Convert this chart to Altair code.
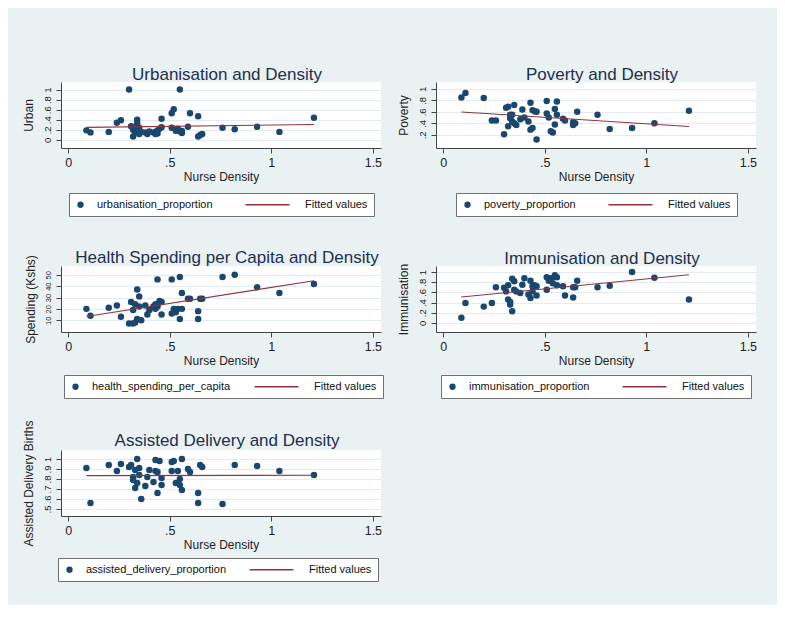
import altair as alt
import pandas as pd

# Nurse density per county (x, shared by all panels)
nurse_density = [0.09, 0.11, 0.20, 0.24, 0.26, 0.30, 0.31, 0.32, 0.32, 0.33, 0.33, 0.34,
                 0.34, 0.35, 0.35, 0.36, 0.38, 0.39, 0.40, 0.42, 0.43, 0.43, 0.44, 0.44,
                 0.45, 0.46, 0.46, 0.51, 0.51, 0.52, 0.53, 0.54, 0.55, 0.55, 0.56, 0.56,
                 0.59, 0.60, 0.64, 0.64, 0.65, 0.66, 0.76, 0.82, 0.93, 1.04, 1.21]

urbanisation_proportion = [0.19, 0.15, 0.16, 0.34, 0.39, 1.00, 0.27, 0.07, 0.20, 0.25, 0.15, 0.40,
                           0.33, 0.12, 0.24, 0.16, 0.15, 0.12, 0.17, 0.15, 0.12, 0.16, 0.19, 0.13,
                           0.22, 0.42, 0.25, 0.53, 0.24, 0.61, 0.18, 0.22, 1.00, 0.17, 0.14, 0.18,
                           0.26, 0.53, 0.47, 0.07, 0.10, 0.12, 0.24, 0.21, 0.26, 0.16, 0.44]

poverty_proportion = [0.85, 0.93, 0.84, 0.45, 0.45, 0.21, 0.67, 0.69, 0.35, 0.55, 0.49, 0.55,
                      0.43, 0.72, 0.40, 0.37, 0.47, 0.64, 0.50, 0.43, 0.76, 0.29, 0.32, 0.63,
                      0.61, 0.12, 0.60, 0.79, 0.57, 0.50, 0.26, 0.24, 0.65, 0.38, 0.78, 0.55,
                      0.48, 0.45, 0.42, 0.37, 0.40, 0.60, 0.55, 0.30, 0.32, 0.40, 0.62]

health_spending_per_capita = [20, 14, 21, 23, 13, 7, 26, 7, 19, 24, 8, 37,
                              11, 31, 22, 10, 23, 15, 19, 22, 24, 20, 46, 22,
                              27, 15, 26, 46, 16, 20, 17, 20, 48, 11, 34, 20,
                              29, 29, 18, 11, 29, 29, 48, 50, 39, 34, 42]

immunisation_proportion = [0.10, 0.39, 0.32, 0.39, 0.70, 0.69, 0.62, 0.74, 0.46, 0.41, 0.36, 0.87,
                           0.23, 0.82, 0.65, 0.62, 0.59, 0.75, 0.88, 0.56, 0.83, 0.49, 0.72, 0.62,
                           0.74, 0.54, 0.72, 0.90, 0.65, 0.83, 0.88, 0.78, 0.94, 0.91, 0.74, 0.90,
                           0.72, 0.54, 0.50, 0.70, 0.70, 0.83, 0.70, 0.73, 1.00, 0.89, 0.46]

assisted_delivery_proportion = [0.91, 0.56, 0.94, 0.88, 0.95, 0.92, 0.94, 0.82, 0.79, 0.71, 0.89, 1.00,
                                0.76, 0.91, 0.84, 0.60, 0.73, 0.82, 0.89, 0.77, 0.99, 0.88, 0.87, 0.66,
                                0.98, 0.81, 0.74, 0.97, 0.88, 0.98, 0.76, 0.88, 0.80, 0.74, 1.00, 0.69,
                                0.90, 0.87, 0.66, 0.56, 0.94, 0.92, 0.55, 0.94, 0.93, 0.88, 0.84]

x_ticks = [0, 0.5, 1, 1.5]

NAVY = "#1a476f"
MAROON = "#90353b"
FONT = "Liberation Sans"
LINE_PATH = "M-13.6,-0.2H0.3V0.2H-13.6Z"
LABEL_EXPR = "replace(datum.label, '0.', '.')"


def panel(values, series, title, ytitle, ydomain, yticks, legend_x, legend_y,
          title_dy, col_pad=32, ylabel_size=9.5):
    df = pd.DataFrame({"x": nurse_density, "y": values, "series": series})
    xenc = alt.X(
        "x:Q",
        scale=alt.Scale(domain=[-0.035, 1.54], nice=False, zero=False),
        axis=alt.Axis(values=x_ticks, format="~r", labelExpr=LABEL_EXPR, grid=False,
                      title="Nurse Density", labelFontSize=12.5, titleFontSize=12,
                      labelPadding=3, titlePadding=3, tickSize=5),
    )
    yenc = alt.Y(
        "y:Q",
        scale=alt.Scale(domain=ydomain, nice=False, zero=False),
        axis=alt.Axis(values=yticks, format="~r", labelExpr=LABEL_EXPR, grid=True,
                      gridColor="#e3ebee", title=ytitle, labelAngle=270,
                      labelAlign="center", labelBaseline="bottom", labelFontSize=ylabel_size,
                      labelOverlap=False, labelPadding=4, titleFontSize=12, titlePadding=7,
                      tickSize=5),
    )
    leg = alt.Legend(
        title=None, orient="none", legendX=legend_x, legendY=legend_y,
        direction="horizontal", columnPadding=col_pad, padding=6,
        strokeColor="#707070", fillColor="white", labelFont=FONT, labelFontSize=11,
        labelColor="#111111", symbolSize=40, labelOffset=11, labelLimit=300,
        symbolStrokeWidth=0,
    )
    dom = [series, "Fitted values"]
    pts = alt.Chart(df).mark_point(filled=True, opacity=1, size=42).encode(
        x=xenc,
        y=yenc,
        color=alt.Color("series:N", scale=alt.Scale(domain=dom, range=[NAVY, MAROON]), legend=leg),
        shape=alt.Shape("series:N", scale=alt.Scale(domain=dom, range=["circle", LINE_PATH]), legend=leg),
    )
    fit = alt.Chart(df).transform_regression("x", "y").mark_line(
        color=MAROON, strokeWidth=1.1
    ).encode(x=xenc, y=yenc)
    return alt.layer(pts, fit).properties(
        width=320, height=66,
        title=alt.Title(title, fontSize=17, font=FONT, fontWeight="normal",
                        color="#1c2f4d", offset=1, dx=6, dy=title_dy, frame="group"),
    )


p1 = panel(urbanisation_proportion, "urbanisation_proportion", "Urbanisation and Density",
           "Urban", [-0.16, 1.15], [0, 0.2, 0.4, 0.6, 0.8, 1], 8, 111, 3)
p2 = panel(poverty_proportion, "poverty_proportion", "Poverty and Density",
           "Poverty", [-0.03, 1.12], [0.2, 0.4, 0.6, 0.8, 1], 20, 111, 3)
p3 = panel(health_spending_per_capita, "health_spending_per_capita",
           "Health Spending per Capita and Density", "Spending (Kshs)", [-0.4, 57.8],
           [10, 20, 30, 40, 50], 3, 109, 13, col_pad=23, ylabel_size=7.5)
p4 = panel(immunisation_proportion, "immunisation_proportion", "Immunisation and Density",
           "Immunisation", [-0.18, 1.12], [0, 0.2, 0.4, 0.6, 0.8, 1], 5, 109, 6)
p5 = panel(assisted_delivery_proportion, "assisted_delivery_proportion",
           "Assisted Delivery and Density", "Assisted Delivery Births", [0.43, 1.09],
           [0.5, 0.6, 0.7, 0.8, 0.9, 1], -3, 108, 31, col_pad=22)

RES = dict(color="independent", shape="independent")
row1 = alt.hconcat(p1, p2, spacing=55, bounds="flush").resolve_scale(**RES)
row2 = alt.hconcat(p3, p4, spacing=55, bounds="flush").resolve_scale(**RES)
row3 = alt.hconcat(p5, spacing=55, bounds="flush").resolve_scale(**RES)

chart = alt.vconcat(row1, row2, row3, spacing=184, bounds="flush").resolve_scale(**RES).properties(
    padding={"left": 13, "top": 58, "right": 20, "bottom": 23},
    background="#eaf1f3",
).configure_view(
    strokeWidth=0, fill="white"
).configure_axis(
    labelFont=FONT, titleFont=FONT, domainColor="#444444", tickColor="#444444",
    labelColor="#222222", titleColor="#222222", titleFontWeight="normal",
)

chart.save("out.html", embed_options={"renderer": "svg", "actions": False})
